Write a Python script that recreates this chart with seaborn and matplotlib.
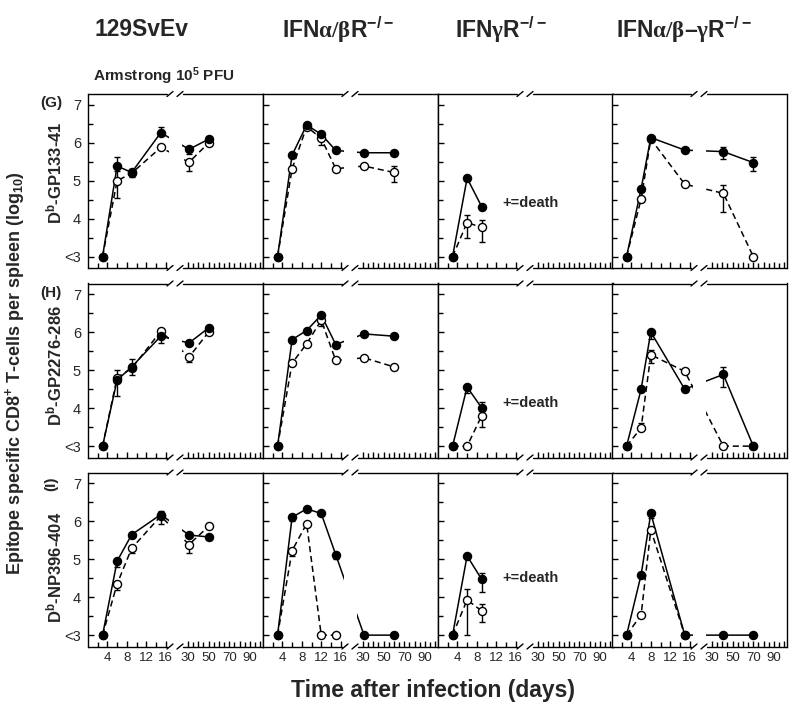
import numpy as np
import pandas as pd
import matplotlib
matplotlib.use('Agg')
import matplotlib.pyplot as plt
import seaborn as sns

sns.set_style('white')
plt.rcParams['font.family'] = ['Liberation Sans', 'DejaVu Sans']
plt.rcParams['font.weight'] = 'bold'
plt.rcParams['mathtext.fontset'] = 'custom'
plt.rcParams['mathtext.rm'] = 'Liberation Serif'
plt.rcParams['mathtext.default'] = 'regular'

# column (mouse strain) and row (epitope) labels
strains = ['129SvEv', 'IFN$\\mathrm{\\alpha/\\beta}$R$^{-/-}$',
           'IFN$\\mathrm{\\gamma}$R$^{-/-}$',
           'IFN$\\mathrm{\\alpha/\\beta}$\u2013$\\mathrm{\\gamma}$R$^{-/-}$']
epitopes = ['D$^{b}$-GP133-41', 'D$^{b}$-GP2276-286', 'D$^{b}$-NP396-404']
tags = ['(G)', '(H)', '(I)']

# days sampled per strain
days_wt = [3, 6, 9, 15, 31, 50]
days_ab = [3, 6, 9, 12, 15, 31, 60]
days_g = [3, 6, 9]
days_abg = [3, 6, 8, 15, 41, 70]

# log10 cells per spleen; filled (f) and open (o) circles, nan = not done
wt_gp33_f = [3, 5.39, 5.22, 6.27, 5.83, 6.10]
wt_gp33_o = [3, 5.00, 5.20, 5.88, 5.49, 6.00]
wt_gp276_f = [3, 4.74, 5.09, 5.90, 5.72, 6.12]
wt_gp276_o = [3, 4.81, 5.05, 6.03, 5.35, 6.01]
wt_np396_f = [3, 4.95, 5.65, 6.18, 5.64, 5.59]
wt_np396_o = [3, 4.35, 5.29, 6.14, 5.39, 5.87]

ab_gp33_f = [3, 5.68, 6.47, 6.23, 5.80, 5.74, 5.74]
ab_gp33_o = [3, 5.32, 6.43, 6.12, 5.32, 5.39, 5.22]
ab_gp276_f = [3, 5.81, 6.05, 6.46, 5.68, 5.96, 5.90]
ab_gp276_o = [3, 5.19, 5.70, 6.32, 5.26, 5.33, 5.09]
ab_np396_f = [3, 6.11, 6.33, 6.21, 5.12, 3, 3]
ab_np396_o = [3, 5.23, 5.94, 3, 3, np.nan, np.nan]

g_gp33_f = [3, 5.07, 4.32]
g_gp33_o = [3, 3.90, 3.77]
g_gp276_f = [3, 4.56, 4.01]
g_gp276_o = [3, 3, 3.80]
g_np396_f = [3, 5.09, 4.47]
g_np396_o = [3, 3.93, 3.64]

abg_gp33_f = [3, 4.79, 6.14, 5.81, 5.77, 5.48]
abg_gp33_o = [3, 4.52, 6.10, 4.91, 4.67, 3]
abg_gp276_f = [3, 4.50, 6.01, 4.50, 4.89, 3]
abg_gp276_o = [3, 3.48, 5.41, 4.97, 3, 3]
abg_np396_f = [3, 4.59, 6.21, 3, 3, 3]
abg_np396_o = [3, 3.53, 5.78, 3, np.nan, np.nan]

# error bars as (down, up)
z = (0, 0)
wt_gp33_f_err = [z, (0, .23), (.12, .08), (0, .14), (.13, 0), z]
wt_gp33_o_err = [z, (.45, .25), z, z, (.24, 0), z]
wt_gp276_f_err = [z, (0, .26), (.22, .22), (.18, 0), z, z]
wt_gp276_o_err = [z, (.5, 0), z, z, (.13, 0), z]
wt_np396_f_err = [z, (.15, 0), z, (.1, .1), z, z]
wt_np396_o_err = [z, (.15, 0), (.12, 0), (.22, 0), (.22, 0), z]

ab_gp33_f_err = [z] * 7
ab_gp33_o_err = [z, z, z, (.18, 0), z, z, (.26, .16)]
ab_gp276_f_err = [z] * 7
ab_gp276_o_err = [z, z, z, (.14, 0), z, z, z]
ab_np396_f_err = [z, (.1, 0), z, z, (.1, 0), z, z]
ab_np396_o_err = [z, (.15, 0), z, z, z, z, z]

g_gp33_f_err = [z, z, z]
g_gp33_o_err = [z, (.4, .2), (.38, .19)]
g_gp276_f_err = [z, (.15, 0), (0, .16)]
g_gp276_o_err = [z, z, (.3, .15)]
g_np396_f_err = [z, z, (.32, .18)]
g_np396_o_err = [z, (.93, .28), (.29, .18)]

abg_gp33_f_err = [z, z, z, z, (.2, .12), (.22, .14)]
abg_gp33_o_err = [z, z, z, z, (.49, .23), z]
abg_gp276_f_err = [z, z, (.18, 0), z, (.33, .2), z]
abg_gp276_o_err = [z, (0, .12), (.23, .12), z, z, z]
abg_np396_f_err = [z, z, (.12, 0), z, z, z]
abg_np396_o_err = [z] * 6

series = {
    0: (days_wt, [(wt_gp33_f, wt_gp33_f_err, wt_gp33_o, wt_gp33_o_err),
                  (wt_gp276_f, wt_gp276_f_err, wt_gp276_o, wt_gp276_o_err),
                  (wt_np396_f, wt_np396_f_err, wt_np396_o, wt_np396_o_err)]),
    1: (days_ab, [(ab_gp33_f, ab_gp33_f_err, ab_gp33_o, ab_gp33_o_err),
                  (ab_gp276_f, ab_gp276_f_err, ab_gp276_o, ab_gp276_o_err),
                  (ab_np396_f, ab_np396_f_err, ab_np396_o, ab_np396_o_err)]),
    2: (days_g, [(g_gp33_f, g_gp33_f_err, g_gp33_o, g_gp33_o_err),
                 (g_gp276_f, g_gp276_f_err, g_gp276_o, g_gp276_o_err),
                 (g_np396_f, g_np396_f_err, g_np396_o, g_np396_o_err)]),
    3: (days_abg, [(abg_gp33_f, abg_gp33_f_err, abg_gp33_o, abg_gp33_o_err),
                   (abg_gp276_f, abg_gp276_f_err, abg_gp276_o, abg_gp276_o_err),
                   (abg_np396_f, abg_np396_f_err, abg_np396_o, abg_np396_o_err)]),
}

rows = []
for c, (days, per_ep) in series.items():
    for r, (f, fe, o, oe) in enumerate(per_ep):
        for kind, vals, errs in (('filled', f, fe), ('open', o, oe)):
            for d, v, (lo, hi) in zip(days, vals, errs):
                rows.append(dict(col=c, row=r, kind=kind, day=d, value=v, lo=lo, hi=hi))
df = pd.DataFrame(rows).dropna()

# broken x axis: 0-17 days stretched, 25-100 compressed
day_knots = [-50, 0, 17, 25, 300]
pos_knots = [-242.5, 0, 82.45, 94.8, 94.8 + 275 * 1.033]
def fwd(d):
    return np.interp(d, day_knots, pos_knots)
def inv(p):
    return np.interp(p, pos_knots, day_knots)

fig = plt.figure(figsize=(8, 7.1), dpi=100)
W, H = 800, 710
lefts = [88, 263, 438, 612]
tops = [94, 283.5, 472.5]
pw, ph = 175, 174
death_y = [4.42, 4.14, 4.5]

for r in range(3):
    for c in range(4):
        ax = fig.add_axes([lefts[c] / W, 1 - (tops[r] + ph) / H, pw / W, ph / H])
        sub = df[(df.col == c) & (df.row == r)]
        fs = sub[sub.kind == 'filled']
        os_ = sub[sub.kind == 'open']
        sns.lineplot(data=os_, x='day', y='value', color='black', lw=1.1,
                     linestyle=(0, (4, 2.5)), estimator=None, sort=False, ax=ax, zorder=2)
        sns.lineplot(data=fs, x='day', y='value', color='black', lw=1.1,
                     estimator=None, sort=False, ax=ax, zorder=2.1)
        ax.axvspan(16.6, 24.4, color='white', lw=0, zorder=2.3)
        for d_ in (os_, fs):
            e = d_[(d_.lo > 0) | (d_.hi > 0)]
            if len(e):
                ax.errorbar(e.day, e.value, yerr=[e.lo, e.hi], fmt='none', ecolor='black',
                            elinewidth=1, capsize=2.3, capthick=1, zorder=2.8)
        sns.scatterplot(data=os_, x='day', y='value', color='white', edgecolor='black',
                        linewidth=1, s=34, ax=ax, zorder=3)
        sns.scatterplot(data=fs, x='day', y='value', color='black', edgecolor='black',
                        linewidth=1, s=34, ax=ax, zorder=3.1)
        ax.set_xscale('function', functions=(fwd, inv))
        ax.set_xlim(0, 102.6)
        ax.set_ylim(2.70, 7.29)
        ax.set_xlabel('')
        ax.set_ylabel('')
        ax.set_xticks([4, 8, 12, 16, 30, 40, 50, 60, 70, 80, 90, 100])
        ax.set_xticks([2, 6, 10, 14, 35, 45, 55, 65, 75, 85, 95], minor=True)
        ax.set_yticks([3, 4, 5, 6, 7])
        ax.set_yticks([3.5, 4.5, 5.5, 6.5], minor=True)
        if r == 2:
            ax.set_xticklabels(['4', '8', '12', '16', '30', '', '50', '', '70', '', '90', ''],
                               fontweight='normal', fontsize=9.5)
        else:
            ax.set_xticklabels([])
        if c == 0:
            ax.set_yticklabels(['<3', '4', '5', '6', '7'], fontweight='normal', fontsize=10.5)
        else:
            ax.set_yticklabels([])
        ax.tick_params(axis='both', which='both', direction='in', width=1, color='black',
                       top=False, right=False, bottom=True, left=True)
        ax.tick_params(axis='both', which='major', length=4.5, pad=4)
        ax.tick_params(axis='both', which='minor', length=3.5)
        ax.tick_params(axis='y', which='major', pad=5)
        for s in ('left', 'right'):
            ax.spines[s].set_color('black')
            ax.spines[s].set_linewidth(1)
        ax.spines['top'].set_visible(False)
        ax.spines['bottom'].set_visible(False)
        # spines with break marks
        a, b = 79 / pw, 95 / pw
        dx, dy = 3 / pw, 2.5 / ph
        for yy in (0, 1):
            ax.plot([0, a], [yy, yy], transform=ax.transAxes, color='black', lw=1,
                    clip_on=False, zorder=5)
            ax.plot([b, 1], [yy, yy], transform=ax.transAxes, color='black', lw=1,
                    clip_on=False, zorder=5)
            for xm in (82 / pw, 92 / pw):
                ax.plot([xm - dx, xm + dx], [yy - dy, yy + dy], transform=ax.transAxes,
                        color='black', lw=1, clip_on=False, zorder=5)
        if c == 2:
            ax.text(0.53, death_y[r], '+=death', transform=ax.get_yaxis_transform(),
                    ha='center', va='center', fontsize=10.5, fontweight='bold')

# column titles
title_x = [141, 338, 501, 684]
for c in range(4):
    fig.text(title_x[c] / W, 1 - 30 / H, strains[c], ha='center', va='center',
             fontsize=16.5, fontweight='bold')
fig.text(93 / W, 1 - 76 / H, 'Armstrong 10$^{5}$ PFU', ha='left', va='center',
         fontsize=11, fontweight='bold')

# row tags and epitope labels
tag_y = [103, 293, 484]
ep_y = [173, 366, 567]
for r in range(3):
    fig.text(51 / W, 1 - tag_y[r] / H, tags[r], ha='center', va='center', fontsize=11,
             fontweight='bold', rotation=90 if r == 2 else 0)
    fig.text(54 / W, 1 - ep_y[r] / H, epitopes[r], ha='center', va='center', fontsize=12,
             fontweight='bold', rotation=90)

fig.text(15 / W, 1 - 373 / H, 'Epitope specific CD8$^{+}$ T-cells per spleen (log$_{10}$)',
         ha='center', va='center', fontsize=13, fontweight='bold', rotation=90)
fig.text(433 / W, 1 - 690 / H, 'Time after infection (days)', ha='center', va='center',
         fontsize=16.5, fontweight='bold')

fig.savefig('out.png', dpi=100)
